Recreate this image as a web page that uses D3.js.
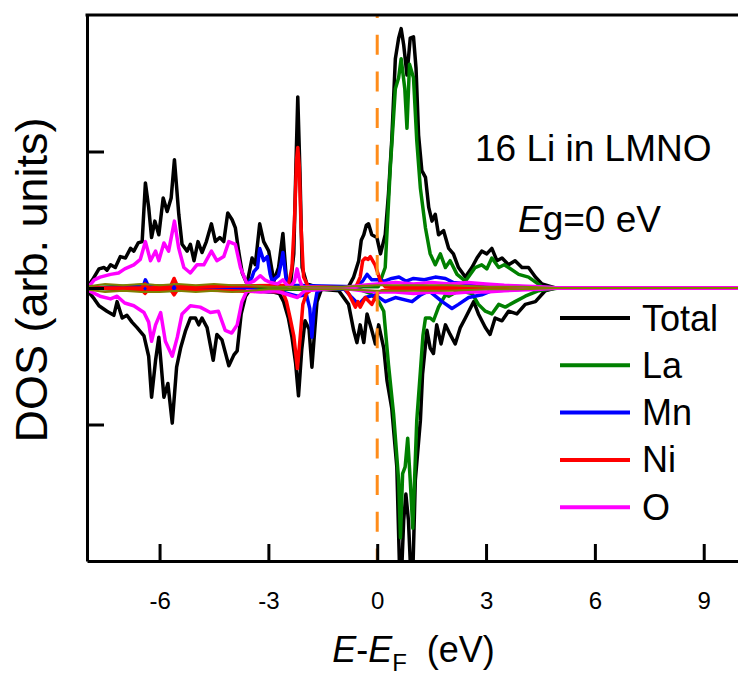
<!DOCTYPE html>
<html>
<head>
<meta charset="utf-8">
<script src="https://cdn.jsdelivr.net/npm/d3@7"></script>
<style>
  body { margin: 0; background: #fff; }
  svg text { font-family: "Liberation Sans", Arial, sans-serif; fill: #000; }
</style>
</head>
<body>
<svg width="738" height="677"></svg>
<script>
// DOS curves, [E - EF (eV), DOS (arb.)], spin up positive / spin down negative
var totalUp = [[-8,0],[-7.85,0.06],[-7.67,0.14],[-7.53,0.15],[-7.45,0.13],[-7.35,0.17],[-7.22,0.15],[-7.08,0.23],[-6.94,0.22],[-6.8,0.29],[-6.71,0.27],[-6.59,0.33],[-6.48,0.34],[-6.39,0.77],[-6.3,0.59],[-6.22,0.37],[-6.13,0.49],[-6.02,0.39],[-5.9,0.66],[-5.79,0.56],[-5.68,0.66],[-5.59,0.94],[-5.47,0.54],[-5.38,0.32],[-5.24,0.27],[-5.15,0.32],[-5.05,0.2],[-4.94,0.34],[-4.83,0.26],[-4.71,0.34],[-4.57,0.47],[-4.46,0.34],[-4.34,0.37],[-4.23,0.34],[-4.12,0.55],[-4.0,0.5],[-3.91,0.44],[-3.82,0.27],[-3.72,0.11],[-3.59,0.03],[-3.45,0.22],[-3.36,0.17],[-3.24,0.47],[-3.13,0.34],[-2.99,0.27],[-2.85,0.05],[-2.72,0.15],[-2.6,0.4],[-2.5,0.05],[-2.39,0.03],[-2.3,0.25],[-2.24,0.9],[-2.19,1.4],[-2.13,0.85],[-2.07,0.15],[-1.94,0.03],[-1.7,0.01],[-1.34,0],[-0.79,0.01],[-0.65,0.08],[-0.51,0.2],[-0.44,0.35],[-0.37,0.39],[-0.3,0.46],[-0.24,0.47],[-0.15,0.39],[-0.01,0.37],[0.09,0.25],[0.22,0.39],[0.31,0.69],[0.4,1.08],[0.5,1.68],[0.59,1.83],[0.66,1.9],[0.73,1.78],[0.82,1.56],[0.91,1.83],[1.0,1.84],[1.07,1.61],[1.14,1.12],[1.23,0.86],[1.33,0.81],[1.42,0.59],[1.51,0.49],[1.6,0.54],[1.69,0.39],[1.83,0.42],[1.97,0.29],[2.1,0.25],[2.24,0.15],[2.43,0.08],[2.61,0.15],[2.75,0.22],[2.88,0.27],[3.02,0.25],[3.16,0.29],[3.3,0.2],[3.44,0.22],[3.62,0.17],[3.8,0.2],[3.99,0.15],[4.17,0.15],[4.36,0.08],[4.54,0.03],[4.91,0],[10,0]];
var totalDown = [[-8,0],[-7.95,-0.03],[-7.8,-0.08],[-7.67,-0.13],[-7.45,-0.17],[-7.26,-0.2],[-7.17,-0.1],[-7.03,-0.22],[-6.9,-0.2],[-6.76,-0.25],[-6.62,-0.29],[-6.43,-0.35],[-6.3,-0.5],[-6.22,-0.8],[-6.11,-0.53],[-6.02,-0.36],[-5.88,-0.8],[-5.77,-0.7],[-5.65,-0.99],[-5.53,-0.58],[-5.42,-0.44],[-5.28,-0.31],[-5.15,-0.22],[-5.01,-0.22],[-4.92,-0.27],[-4.83,-0.22],[-4.69,-0.29],[-4.52,-0.53],[-4.42,-0.34],[-4.28,-0.38],[-4.09,-0.57],[-3.95,-0.49],[-3.86,-0.46],[-3.75,-0.19],[-3.63,-0.06],[-3.5,-0.01],[-3.0,-0.02],[-2.7,-0.04],[-2.58,-0.1],[-2.45,-0.22],[-2.35,-0.36],[-2.25,-0.55],[-2.17,-0.79],[-2.08,-0.45],[-1.99,-0.24],[-1.88,-0.3],[-1.8,-0.58],[-1.72,-0.3],[-1.66,-0.1],[-1.54,-0.01],[-1.06,-0.02],[-0.79,-0.12],[-0.65,-0.31],[-0.56,-0.4],[-0.47,-0.27],[-0.37,-0.4],[-0.28,-0.19],[-0.15,-0.31],[-0.05,-0.41],[0.04,-0.27],[0.18,-0.44],[0.27,-0.68],[0.4,-0.88],[0.54,-1.31],[0.64,-2.3],[0.73,-1.7],[0.79,-1.51],[0.86,-1.7],[0.96,-2.3],[1.05,-1.41],[1.19,-0.97],[1.25,-0.63],[1.37,-0.31],[1.46,-0.44],[1.55,-0.48],[1.64,-0.27],[1.76,-0.41],[1.88,-0.27],[2.01,-0.34],[2.15,-0.41],[2.29,-0.29],[2.43,-0.22],[2.66,-0.1],[2.79,-0.19],[2.98,-0.29],[3.11,-0.34],[3.25,-0.22],[3.44,-0.24],[3.62,-0.17],[3.85,-0.19],[4.08,-0.12],[4.36,-0.1],[4.63,-0.02],[4.91,0],[10,0]];
var laUp = [[-8,0],[-6.4,0.02],[-5.6,0.01],[-3.5,0.01],[-0.5,0.01],[0.03,0.01],[0.22,0.15],[0.36,0.88],[0.5,1.46],[0.59,1.54],[0.66,1.68],[0.76,1.46],[0.82,1.17],[0.89,1.64],[1.0,1.54],[1.09,1.08],[1.19,0.73],[1.33,0.44],[1.46,0.25],[1.6,0.17],[1.74,0.25],[1.88,0.15],[2.01,0.2],[2.2,0.1],[2.43,0.05],[2.7,0.15],[2.88,0.17],[3.02,0.14],[3.16,0.22],[3.35,0.15],[3.5,0.17],[3.62,0.15],[3.9,0.1],[4.17,0.08],[4.54,0.01],[5,0],[10,0]];
var laDown = [[-8,0],[-6.3,-0.02],[-3.5,-0.01],[-0.5,-0.01],[-0.19,-0.04],[0.04,-0.1],[0.18,-0.17],[0.31,-0.56],[0.45,-0.92],[0.59,-1.41],[0.64,-1.83],[0.7,-1.36],[0.77,-1.31],[0.84,-1.1],[0.91,-1.41],[0.98,-1.76],[1.09,-0.97],[1.19,-0.61],[1.26,-0.35],[1.33,-0.22],[1.46,-0.22],[1.55,-0.24],[1.69,-0.14],[1.88,-0.05],[1.97,-0.06],[2.24,-0.02],[2.43,-0.03],[2.61,-0.04],[2.79,-0.12],[2.98,-0.17],[3.16,-0.19],[3.35,-0.12],[3.53,-0.14],[3.8,-0.1],[4.08,-0.06],[4.45,-0.02],[5,0],[10,0]];
var mnUp = [[-8,0],[-6.45,0.01],[-6.39,0.06],[-6.3,0.01],[-3.6,0.01],[-3.45,0.08],[-3.4,0.12],[-3.3,0.15],[-3.24,0.29],[-3.13,0.2],[-3.03,0.23],[-2.95,0.1],[-2.9,0.05],[-2.72,0.09],[-2.65,0.18],[-2.6,0.26],[-2.52,0.08],[-2.45,0.02],[-0.6,0.01],[-0.4,0.05],[-0.28,0.1],[-0.15,0.06],[0.03,0.06],[0.2,0.05],[0.4,0.07],[0.6,0.08],[0.8,0.05],[1.0,0.07],[1.3,0.06],[1.6,0.08],[1.88,0.07],[2.1,0.04],[2.5,0.03],[3,0.02],[4,0.01],[5,0],[10,0]];
var mnDown = [[-8,0],[-3.5,-0.01],[-3.0,-0.03],[-2.6,-0.03],[-2.2,-0.06],[-1.95,-0.05],[-1.86,-0.15],[-1.8,-0.36],[-1.74,-0.15],[-1.66,-0.03],[-1.5,0],[-0.9,-0.01],[-0.7,-0.07],[-0.51,-0.12],[-0.33,-0.07],[-0.05,-0.05],[0.22,-0.1],[0.5,-0.07],[0.96,-0.1],[1.2,-0.05],[1.42,-0.02],[1.79,-0.1],[2.06,-0.15],[2.24,-0.12],[2.52,-0.07],[2.88,-0.05],[3.16,-0.02],[4,-0.01],[5,0],[10,0]];
var niUp = [[-8,0],[-6.5,0.0],[-6.4,0.03],[-6.3,0.0],[-5.7,0.01],[-5.6,0.07],[-5.5,0.01],[-2.45,0.02],[-2.35,0.15],[-2.28,0.5],[-2.22,0.95],[-2.19,1.03],[-2.15,0.9],[-2.1,0.45],[-2.03,0.08],[-1.9,0.01],[-0.6,0],[-0.47,0.08],[-0.4,0.2],[-0.33,0.22],[-0.25,0.21],[-0.19,0.23],[-0.06,0.17],[0.09,0.05],[0.22,0.01],[1,0.01],[2,0.01],[4,0],[10,0]];
var niDown = [[-8,0],[-6.5,-0.01],[-6.4,-0.04],[-6.3,-0.01],[-5.7,-0.01],[-5.6,-0.05],[-5.5,-0.01],[-2.6,-0.03],[-2.5,-0.1],[-2.4,-0.22],[-2.3,-0.35],[-2.2,-0.59],[-2.12,-0.35],[-2.05,-0.12],[-1.95,-0.04],[-1.8,-0.01],[-0.9,0],[-0.79,-0.04],[-0.6,-0.14],[-0.53,-0.1],[-0.47,-0.14],[-0.33,-0.07],[-0.15,-0.12],[0,-0.04],[0.13,-0.02],[0.5,-0.01],[2,-0.01],[4,0],[10,0]];
var oUp = [[-8,0],[-7.95,0.01],[-7.8,0.06],[-7.64,0.08],[-7.35,0.1],[-7.13,0.11],[-6.96,0.14],[-6.71,0.17],[-6.53,0.21],[-6.39,0.34],[-6.25,0.2],[-6.11,0.27],[-6.02,0.2],[-5.88,0.33],[-5.75,0.27],[-5.59,0.49],[-5.47,0.29],[-5.33,0.15],[-5.15,0.11],[-4.97,0.17],[-4.78,0.17],[-4.57,0.27],[-4.42,0.2],[-4.23,0.23],[-4.09,0.34],[-3.91,0.32],[-3.77,0.15],[-3.59,0.03],[-3.4,0.05],[-3.22,0.09],[-3.1,0.06],[-2.94,0.04],[-2.75,0.03],[-2.6,0.06],[-2.48,0.02],[-2.39,0.01],[-2.28,0.05],[-2.21,0.14],[-2.14,0.06],[-2.07,0.01],[-1,0],[-0.4,0.02],[0,0.03],[0.5,0.04],[1,0.03],[1.5,0.04],[2,0.03],[2.5,0.04],[3,0.03],[3.5,0.02],[4.5,0.01],[5,0],[10,0]];
var oDown = [[-8,0],[-7.95,-0.02],[-7.64,-0.06],[-7.35,-0.08],[-7.17,-0.06],[-6.96,-0.11],[-6.71,-0.13],[-6.43,-0.18],[-6.3,-0.25],[-6.22,-0.39],[-6.11,-0.27],[-5.97,-0.18],[-5.84,-0.39],[-5.65,-0.5],[-5.51,-0.36],[-5.38,-0.19],[-5.15,-0.13],[-4.88,-0.14],[-4.6,-0.18],[-4.38,-0.17],[-4.19,-0.31],[-4.01,-0.33],[-3.86,-0.27],[-3.73,-0.1],[-3.59,-0.02],[-3.2,-0.03],[-2.8,-0.02],[-2.2,-0.07],[-2.0,-0.02],[-1,0],[-0.4,-0.02],[0,-0.03],[0.5,-0.03],[1,-0.04],[1.5,-0.03],[2,-0.04],[2.5,-0.03],[3,-0.03],[3.5,-0.02],[4.5,-0.01],[5,0],[10,0]];
var otherUp = [[-8,0.01],[-7.5,0.03],[-7,0.02],[-6.5,0.03],[-6,0.02],[-5.5,0.03],[-5,0.02],[-4.5,0.03],[-4,0.02],[-3.5,0.02],[-3,0.01],[-2,0.01],[-1,0.01],[0,0.02],[1,0.02],[2,0.02],[3,0.01],[4,0.01],[5,0],[10,0]];
var otherDown = [[-8,-0.01],[-7.5,-0.03],[-7,-0.02],[-6.5,-0.03],[-6,-0.03],[-5.5,-0.02],[-5,-0.03],[-4.5,-0.02],[-4,-0.03],[-3.5,-0.02],[-3,-0.01],[-2,-0.01],[-1,-0.01],[0,-0.02],[1,-0.02],[2,-0.02],[3,-0.01],[4,-0.01],[5,0],[10,0]];

var legendNames = ["Total", "La", "Mn", "Ni", "O"];
var legendColors = ["#000000", "#008000", "#0000ff", "#ff0000", "#ff00ff"];
var xTicks = [-6, -3, 0, 3, 6, 9];
var yTicks = [-1, 0, 1];

var svg = d3.select("svg");
var plotLeft = 87, plotTop = 15, plotBottom = 561, plotRight = 740;

var x = d3.scaleLinear().domain([-8, 10]).range([plotLeft, plotRight]);
var y = d3.scaleLinear().domain([-2, 2]).range([plotBottom, plotTop]);

svg.append("defs").append("clipPath").attr("id", "plotclip")
  .append("rect").attr("x", plotLeft).attr("y", plotTop)
  .attr("width", plotRight - plotLeft).attr("height", plotBottom - plotTop);

var line = d3.line()
  .x(function(d) { return x(d[0]); })
  .y(function(d) { return y(d[1]); });

// [data, colour, width]
var series = [
  [totalUp, "#000000", 3.5], [totalDown, "#000000", 3.5],
  [laUp, "#008000", 3.5], [laDown, "#008000", 3.5],
  [mnUp, "#0000ff", 3.5], [mnDown, "#0000ff", 3.5],
  [niUp, "#ff0000", 3.5], [niDown, "#ff0000", 3.5],
  [oUp, "#ff00ff", 3.5], [oDown, "#ff00ff", 3.5],
  [otherUp, "#808000", 2], [otherDown, "#808000", 2]
];

var plot = svg.append("g").attr("clip-path", "url(#plotclip)");
series.forEach(function(s) {
  plot.append("path")
    .datum(s[0])
    .attr("fill", "none")
    .attr("stroke", s[1])
    .attr("stroke-width", s[2])
    .attr("stroke-linejoin", "round")
    .attr("d", line);
});

// Fermi level
svg.append("line")
  .attr("x1", x(0)).attr("x2", x(0))
  .attr("y1", y(2)).attr("y2", y(-2))
  .attr("stroke", "#ff8c1a")
  .attr("stroke-width", 3)
  .attr("stroke-dasharray", "20,16.7")
  .attr("stroke-dashoffset", 17);

// axes
var xAxis = svg.append("g")
  .attr("transform", "translate(0," + plotBottom + ")")
  .call(d3.axisBottom(x).tickValues(xTicks).tickSizeInner(-17).tickSizeOuter(0).tickPadding(31)
    .tickFormat(function(d) { return d; }));
xAxis.selectAll("path, line").attr("stroke", "#000").attr("stroke-width", 3);
xAxis.selectAll("text").style("font-size", "24px").style("font-family", "Liberation Sans, Arial, sans-serif");

var yAxis = svg.append("g")
  .attr("transform", "translate(" + plotLeft + ",0)")
  .call(d3.axisLeft(y).tickValues(yTicks).tickSizeInner(-17).tickSizeOuter(0).tickFormat(""));
yAxis.selectAll("path, line").attr("stroke", "#000").attr("stroke-width", 3);

svg.append("line")
  .attr("x1", plotLeft - 1.5).attr("x2", 738)
  .attr("y1", plotTop).attr("y2", plotTop)
  .attr("stroke", "#000").attr("stroke-width", 3);

// axis titles
var xt = svg.append("text")
  .attr("x", (plotLeft + plotRight) / 2)
  .attr("y", 662)
  .attr("text-anchor", "middle")
  .attr("font-size", 36);
xt.append("tspan").attr("font-style", "italic").text("E");
xt.append("tspan").text("-");
xt.append("tspan").attr("font-style", "italic").text("E");
xt.append("tspan").attr("font-size", 24).attr("dy", 9).text("F");
xt.append("tspan").attr("dy", -9).text("\u00a0 (eV)");

svg.append("text")
  .attr("transform", "translate(47,280) rotate(-90)")
  .attr("text-anchor", "middle")
  .attr("font-size", 45)
  .text("DOS (arb. units)");

// annotations
svg.append("text")
  .attr("x", 475).attr("y", 161)
  .attr("font-size", 37)
  .text("16 Li in LMNO");

var eg = svg.append("text")
  .attr("x", 518).attr("y", 232)
  .attr("font-size", 37);
eg.append("tspan").attr("font-style", "italic").text("E");
eg.append("tspan").text("g=0 eV");

// legend
var legend = svg.append("g");
legendNames.forEach(function(name, i) {
  var ly = 318 + i * 47.3;
  legend.append("line")
    .attr("x1", 560).attr("x2", 630)
    .attr("y1", ly).attr("y2", ly)
    .attr("stroke", legendColors[i])
    .attr("stroke-width", 4);
  legend.append("text")
    .attr("x", 642).attr("y", ly + 12.5)
    .attr("font-size", 36)
    .text(name);
});
</script>
</body>
</html>
